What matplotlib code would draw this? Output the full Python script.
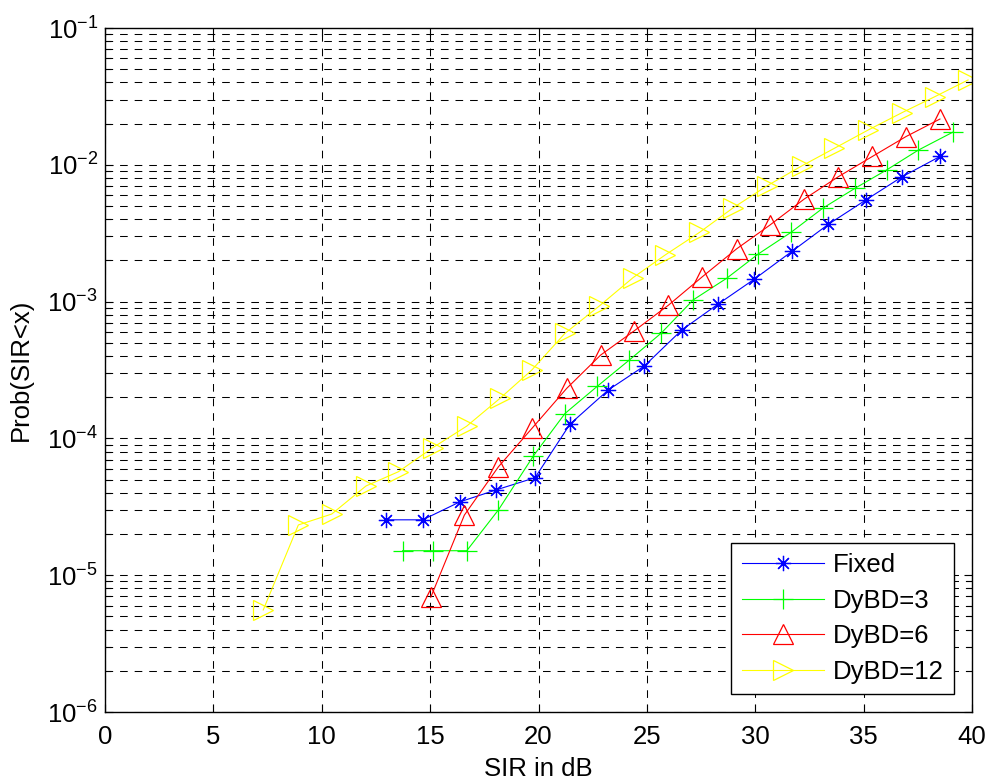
import matplotlib
matplotlib.use("Agg")
import matplotlib.pyplot as plt
from matplotlib.ticker import LogLocator, FixedLocator, NullFormatter

plt.rcParams['font.family'] = ['Liberation Sans', 'DejaVu Sans']
plt.rcParams['mathtext.fontset'] = 'custom'
plt.rcParams['mathtext.rm'] = 'Liberation Sans'
plt.rcParams['mathtext.it'] = 'Liberation Sans'
plt.rcParams['mathtext.bf'] = 'Liberation Sans'
plt.rcParams['lines.scale_dashes'] = False

# ---- data ----
fixed_x = [12.96, 14.66, 16.38, 18.04, 19.84, 21.45, 23.22, 24.88, 26.61, 28.29,
           29.96, 31.71, 33.37, 35.10, 36.78, 38.52]
fixed_y = [2.54e-5, 2.54e-5, 3.44e-5, 4.2e-5, 5.16e-5, 1.27e-4, 2.26e-4, 3.38e-4,
           6.2e-4, 9.6e-4, 1.46e-3, 2.34e-3, 3.67e-3, 5.53e-3, 8.18e-3, 1.15e-2]

d3_x = [13.73, 15.15, 16.69, 18.15, 19.76, 21.22, 22.72, 24.19, 25.65, 27.14,
        28.68, 30.14, 31.64, 33.11, 34.60, 36.06, 37.52, 39.11]
d3_y = [1.51e-5, 1.51e-5, 1.51e-5, 3.0e-5, 7.43e-5, 1.52e-4, 2.41e-4, 3.74e-4,
        5.86e-4, 1.03e-3, 1.48e-3, 2.23e-3, 3.2e-3, 4.81e-3, 6.73e-3, 9.17e-3,
        1.28e-2, 1.73e-2]

d6_x = [15.03, 16.58, 18.15, 19.71, 21.30, 22.87, 24.42, 25.99, 27.56, 29.14,
        30.68, 32.26, 33.83, 35.40, 36.96, 38.52]
d6_y = [6.9e-6, 2.75e-5, 6.2e-5, 1.19e-4, 2.32e-4, 4.07e-4, 6.12e-4, 9.4e-4,
        1.52e-3, 2.43e-3, 3.63e-3, 5.62e-3, 8.18e-3, 1.15e-2, 1.61e-2, 2.16e-2]

d12_x = [7.30, 8.92, 10.46, 12.04, 13.53, 15.12, 16.69, 18.22, 19.69, 21.22,
         22.81, 24.37, 25.84, 27.42, 28.99, 30.53, 32.14, 33.65, 35.22, 36.76,
         38.29, 39.82]
d12_y = [5.57e-6, 2.33e-5, 2.8e-5, 4.49e-5, 5.7e-5, 8.55e-5, 1.23e-4, 1.96e-4,
         3.16e-4, 5.86e-4, 9.3e-4, 1.5e-3, 2.19e-3, 3.2e-3, 4.86e-3, 7.0e-3,
         9.8e-3, 1.32e-2, 1.80e-2, 2.40e-2, 3.15e-2, 4.17e-2]

labels = ['Fixed', 'DyBD=3', 'DyBD=6', 'DyBD=12']
xticks = [0, 5, 10, 15, 20, 25, 30, 35, 40]
yticks = [1e-6, 1e-5, 1e-4, 1e-3, 1e-2, 1e-1]
ytick_labels = [r'$10^{-6}$', r'$10^{-5}$', r'$10^{-4}$', r'$10^{-3}$', r'$10^{-2}$', r'$10^{-1}$']

FS = 18.5

fig = plt.figure(figsize=(9.9, 7.82), dpi=100)
ax = fig.add_axes([105/990, 1-712/782, (972-105)/990, (712-28)/782])

lw = 0.8
ax.semilogy(fixed_x, fixed_y, color=(0, 0, 1), lw=lw, marker=(8, 2, 0), ms=11,
            mew=0.9, label=labels[0])
ax.semilogy(d3_x, d3_y, color=(0, 1, 0), lw=lw, marker='+', ms=15,
            mew=0.9, label=labels[1])
ax.semilogy(d6_x, d6_y, color=(1, 0, 0), lw=lw, marker='^', ms=14,
            mew=0.9, mfc='none', label=labels[2])
ax.semilogy(d12_x, d12_y, color=(1, 1, 0), lw=lw, marker='>', ms=14,
            mew=0.9, mfc='none', label=labels[3])

ax.set_xlim(0, 40)
ax.set_ylim(1e-6, 1e-1)
ax.xaxis.set_major_locator(FixedLocator(xticks))
ax.set_xticklabels([str(t) for t in xticks])
ax.yaxis.set_major_locator(FixedLocator(yticks))
ax.set_yticklabels(ytick_labels)
ax.yaxis.set_minor_locator(LogLocator(base=10, subs=range(2, 10), numticks=20))
ax.yaxis.set_minor_formatter(NullFormatter())

dash = (0, (5.5, 5))
ax.grid(True, which='major', axis='both', color='black', lw=0.75, linestyle=dash)
ax.grid(True, which='minor', axis='y', color='black', lw=0.75, linestyle=dash)
ax.set_axisbelow(True)

ax.tick_params(which='both', direction='in', top=True, right=True,
               labelsize=FS, width=0.8, colors='black')
ax.tick_params(axis='x', which='major', length=6, pad=9)
ax.tick_params(axis='y', which='major', length=6, pad=5)
ax.tick_params(which='minor', length=4.5)
for s in ax.spines.values():
    s.set_linewidth(1.0)

ax.set_xlabel('SIR in dB', fontsize=FS, labelpad=6)
ax.set_ylabel('Prob(SIR<x)', fontsize=FS, labelpad=10)

leg = ax.legend(loc='lower right', fontsize=FS, frameon=True, fancybox=False,
                edgecolor='black', framealpha=1, handlelength=3.2,
                handletextpad=0.35, labelspacing=0.45, borderaxespad=0.7,
                borderpad=0.4)
leg.get_frame().set_linewidth(1.0)

fig.savefig('out.png', dpi=100)
